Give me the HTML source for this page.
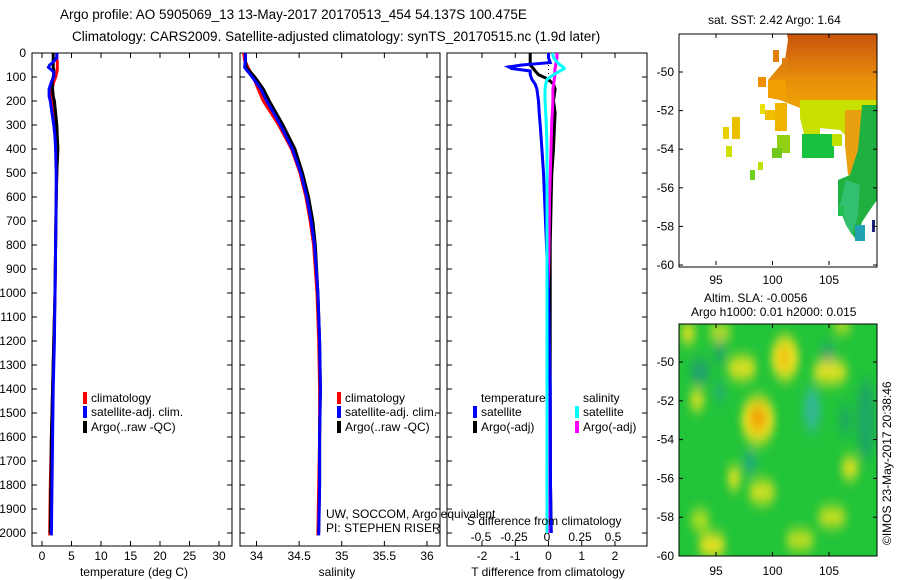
<!DOCTYPE html>
<html><head><meta charset="utf-8">
<style>
html,body{margin:0;padding:0;background:#fff;}
svg{display:block;font-family:"Liberation Sans",sans-serif;}
text{font-size:12px;fill:#000;}
</style></head>
<body>
<svg id="chart" width="900" height="580" viewBox="0 0 900 580" xmlns="http://www.w3.org/2000/svg">
<defs>
<filter id="blur" x="-50%" y="-50%" width="200%" height="200%"><feGaussianBlur stdDeviation="4 7"/></filter>
<clipPath id="clipMap2"><rect x="679" y="324" width="198" height="232"/></clipPath>
<clipPath id="clipMap1"><rect x="679" y="34" width="198" height="233"/></clipPath>
<linearGradient id="sstGrad" x1="0" y1="0" x2="0" y2="1">
<stop offset="0" stop-color="#c8540c"/><stop offset="0.5" stop-color="#e8900a"/><stop offset="1" stop-color="#f0b000"/></linearGradient>
</defs>
<text x="60" y="19" style="font-size:13.5px">Argo profile: AO 5905069_13 13-May-2017 20170513_454 54.137S 100.475E</text>
<text x="72" y="41" style="font-size:13.5px">Climatology: CARS2009. Satellite-adjusted climatology: synTS_20170515.nc (1.9d later)</text>
<g id="p1"></g>
<g id="p2"></g>
<g id="p3"></g>
<g id="map1">
<text x="708" y="24">sat. SST: 2.42 Argo: 1.64</text>
<g clip-path="url(#clipMap1)">
<polygon fill="url(#sstGrad)" points="787,34 877,34 877,112 860,128 820,124 800,108 780,100 770,98 768,80 785,60 788,40"/>
<polygon fill="#c8e000" points="800,100 877,100 877,142 850,140 840,130 820,128 820,138 805,138 800,118"/>
<polygon fill="#e8a010" points="845,110 862,110 860,150 856,175 848,175 845,145"/>
<polygon fill="#20b040" points="862,105 877,105 877,200 870,210 862,222 856,240 846,225 838,205 838,180 850,175 858,150"/>
<polygon fill="#30c070" points="846,180 860,185 858,215 852,235 846,225 840,205"/>
<rect x="855" y="225" width="10" height="16" fill="#20a0b0"/>
<rect x="802" y="134" width="32" height="24" fill="#18c040"/>
<rect x="832" y="134" width="10" height="12" fill="#c0e000"/>
<rect x="777" y="135" width="13" height="18" fill="#90d010"/>
<rect x="772" y="148" width="10" height="10" fill="#70c820"/>
<rect x="775" y="103" width="12" height="28" fill="#f0b400"/>
<rect x="765" y="110" width="10" height="10" fill="#f0c000"/>
<rect x="760" y="104" width="5" height="10" fill="#e8e000"/>
<rect x="732" y="117" width="8" height="22" fill="#e8c000"/>
<rect x="723" y="127" width="6" height="12" fill="#e8d000"/>
<rect x="726" y="146" width="6" height="11" fill="#d0e000"/>
<rect x="758" y="162" width="5" height="8" fill="#c0e000"/>
<rect x="750" y="170" width="5" height="10" fill="#70d020"/>
<rect x="773" y="50" width="6" height="12" fill="#e08010"/>
<rect x="782" y="58" width="6" height="12" fill="#e08010"/>
<rect x="758" y="77" width="8" height="10" fill="#f09000"/>
<rect x="768" y="80" width="18" height="18" fill="#f0a000"/>
<rect x="838" y="206" width="6" height="10" fill="#20c050"/>
<rect x="872" y="220" width="3" height="12" fill="#202080"/>
</g>
<rect x="679" y="34" width="198" height="233" fill="none" stroke="#000"/>
</g>
<g id="map2">
<text x="704" y="302">Altim. SLA: -0.0056</text>
<text x="691" y="316">Argo h1000: 0.01 h2000: 0.015</text>
<g clip-path="url(#clipMap2)">
<rect x="679" y="324" width="198" height="232" fill="#22c43a"/>
<g filter="url(#blur)">
<ellipse cx="700" cy="372" rx="10" ry="12" fill="#20a070"/>
<ellipse cx="720" cy="350" rx="6" ry="15" fill="#1aa860"/>
<ellipse cx="812" cy="410" rx="9" ry="22" fill="#30b890"/>
<ellipse cx="750" cy="462" rx="7" ry="10" fill="#20a880"/>
<ellipse cx="720" cy="392" rx="5" ry="8" fill="#20a880"/>
<ellipse cx="828" cy="355" rx="8" ry="10" fill="#20a070"/>
<ellipse cx="866" cy="420" rx="10" ry="40" fill="#1aa860"/>
<ellipse cx="845" cy="420" rx="6" ry="15" fill="#1aa860"/>
<ellipse cx="758" cy="420" rx="17" ry="24" fill="#e8e020"/>
<ellipse cx="758" cy="418" rx="9" ry="12" fill="#f0a000"/>
<ellipse cx="785" cy="358" rx="14" ry="22" fill="#e8e020"/>
<ellipse cx="784" cy="358" rx="5" ry="8" fill="#f0b000"/>
<ellipse cx="742" cy="368" rx="15" ry="12" fill="#e0e020"/>
<ellipse cx="830" cy="372" rx="18" ry="12" fill="#e0e020"/>
<ellipse cx="697" cy="400" rx="8" ry="10" fill="#d8e020"/>
<ellipse cx="688" cy="333" rx="8" ry="10" fill="#e0e020"/>
<ellipse cx="720" cy="332" rx="12" ry="8" fill="#c8e020"/>
<ellipse cx="842" cy="326" rx="10" ry="6" fill="#d8e020"/>
<ellipse cx="850" cy="468" rx="9" ry="11" fill="#e0e020"/>
<ellipse cx="734" cy="478" rx="7" ry="12" fill="#d8e020"/>
<ellipse cx="762" cy="492" rx="14" ry="12" fill="#d0e020"/>
<ellipse cx="712" cy="545" rx="14" ry="12" fill="#e8e020"/>
<ellipse cx="800" cy="540" rx="15" ry="10" fill="#c8e020"/>
<ellipse cx="832" cy="517" rx="15" ry="10" fill="#d0e020"/>
<ellipse cx="700" cy="520" rx="10" ry="10" fill="#b8e020"/>
</g>
</g>
<rect x="679" y="324" width="198" height="232" fill="none" stroke="#000"/>
<text transform="translate(891,545) rotate(-90)">©IMOS 23-May-2017 20:38:46</text>
</g>
</svg>
<script>
// ---- data ----
const depthT = [0,20,40,50,60,70,80,100,120,150,180,200,250,300,350,400,500,600,800,1000,1200,1400,1600,1800,2000,2010];
const tempClim = [2.5,2.5,2.6,2.6,2.6,2.6,2.5,2.3,2.0,1.7,1.6,1.7,2.0,2.3,2.4,2.5,2.5,2.4,2.3,2.2,2.0,1.8,1.6,1.4,1.3,1.3];
const tempSat = [2.5,2.5,1.8,1.3,1.1,1.6,2.0,2.0,1.6,1.2,1.2,1.4,1.7,2.0,2.2,2.3,2.4,2.4,2.3,2.2,2.1,1.9,1.8,1.7,1.6,1.6];
const tempArgo = [1.9,1.9,1.9,1.9,1.9,2.0,2.0,1.9,1.7,1.8,1.9,2.1,2.3,2.5,2.6,2.7,2.5,2.4,2.3,2.2,2.0,1.8,1.6,1.5,1.4];
const depthS = [0,30,60,100,150,200,250,300,400,500,600,700,800,1000,1200,1400,1600,1800,2000,2010];
const salClim = [33.85,33.86,33.9,33.96,34.02,34.08,34.17,34.26,34.41,34.51,34.58,34.63,34.67,34.71,34.73,34.74,34.74,34.73,34.72,34.72];
const salSat = [33.87,33.87,33.86,33.95,34.05,34.12,34.2,34.28,34.42,34.52,34.59,34.64,34.68,34.72,34.74,34.75,34.74,34.74,34.73,34.73];
const salArgo = [33.87,33.87,33.88,33.98,34.08,34.15,34.23,34.31,34.45,34.54,34.61,34.66,34.69,34.72,34.74,34.75,34.74,34.74,34.73];
const depthD = [0,20,40,50,58,65,75,90,110,130,150,200,250,300,400,500,600,800,1000,1400,1800,2000];
const tDiffSat = [0.0,0.0,0.05,-0.8,-1.2,-1.1,-0.55,-0.55,-0.5,-0.4,-0.35,-0.3,-0.28,-0.25,-0.2,-0.15,-0.12,-0.06,0.0,0.05,0.06,0.08];
const tDiffArgo = [-0.55,-0.55,-0.55,-0.55,-0.5,-0.45,-0.4,-0.3,0.0,0.15,0.2,0.15,0.2,0.18,0.15,0.1,0.08,0.05,0.05,0.05,0.06,0.08];
const sDiffSat = [0.04,0.05,0.08,0.1,0.12,0.13,0.1,0.05,0.0,-0.01,-0.015,-0.015,-0.01,-0.005,0.0,0.0,0.0,0.0,0.0,0.0,0.0,0.0];
const sDiffArgo = [0.075,0.075,0.07,0.065,0.065,0.06,0.06,0.06,0.055,0.05,0.045,0.045,0.04,0.035,0.03,0.025,0.02,0.015,0.01,0.005,0.01,0.01];
const depthTicks = [0,100,200,300,400,500,600,700,800,900,1000,1100,1200,1300,1400,1500,1600,1700,1800,1900,2000];
const tempTicks = [0,5,10,15,20,25,30];
const salTicks = [34,34.5,35,35.5,36];
const tDiffTicks = [-2,-1,0,1,2];
const sDiffTicks = [-0.5,-0.25,0,0.25,0.5];
const mapLatTicks = [-50,-52,-54,-56,-58,-60];
const mapLonTicks = [95,100,105];

const NS='http://www.w3.org/2000/svg';
function el(tag, attrs, parent, txt){const e=document.createElementNS(NS,tag);for(const k in attrs)e.setAttribute(k,attrs[k]);if(txt!==undefined)e.textContent=txt;parent.appendChild(e);return e;}
const top0=53, bot=546;
const yD = d => 53 + d*0.24;
function xLin(d0,x0,d1,x1){return v=>x0+(v-d0)*(x1-x0)/(d1-d0);}
const xT = xLin(0,42,30,219);
const xS = xLin(34,256.5,36,427);
const xTD = xLin(-2,482,2,615);
const xSD = xLin(-0.5,481,0.5,613);

function frame(g, x0, x1, name){
  const r=el('rect',{x:x0,y:top0,width:x1-x0,height:bot-top0,fill:'none',stroke:'#000'},g);
  
  
  depthTicks.forEach(d=>{
    el('line',{x1:x0,x2:x0+5,y1:yD(d),y2:yD(d),stroke:'#000'},g);
    el('line',{x1:x1,x2:x1-5,y1:yD(d),y2:yD(d),stroke:'#000'},g);
  });
}
function xticks(g,ticks,fx,labels,y){
  ticks.forEach((t,i)=>{
    el('line',{x1:fx(t),x2:fx(t),y1:bot,y2:bot-5,stroke:'#000'},g);
    el('line',{x1:fx(t),x2:fx(t),y1:top0,y2:top0+5,stroke:'#000'},g);
    const tx=el('text',{x:fx(t),y:y,'text-anchor':'middle'},g,labels[i]);
    
    
  });
}
function line(g, xs, ds, fx, color, name, w){
  const pts = xs.map((v,i)=>fx(v).toFixed(1)+','+yD(ds[i]).toFixed(1)).join(' ');
  const p=el('polyline',{points:pts,fill:'none',stroke:color,'stroke-width':w||3,'stroke-linejoin':'miter'},g);
  
  
}
function legend(g,x,y,color,label){
  el('rect',{x:x,y:y-10,width:4,height:12,fill:color},g);
  const t=el('text',{x:x+8,y:y},g,label);
  
  
}

// panel 1
const p1=document.getElementById('p1');
frame(p1,32,232,'temperature');
depthTicks.forEach(d=>{const t=el('text',{x:26,y:yD(d)+4,'text-anchor':'end'},p1,String(d));
  
  });
xticks(p1,tempTicks,xT,tempTicks.map(String),560);
line(p1,tempClim,depthT,xT,'#ff0000','temp-climatology-line');
line(p1,tempArgo,depthT,xT,'#000000','temp-argo-line');
line(p1,tempSat,depthT,xT,'#0000ff','temp-satellite-line');
legend(p1,83,402,'#ff0000','climatology');
legend(p1,83,416,'#0000ff','satellite-adj. clim.');
legend(p1,83,431,'#000','Argo(..raw -QC)');
{const t=el('text',{x:134,y:576,'text-anchor':'middle'},p1,'temperature (deg C)');
}

// panel 2
const p2=document.getElementById('p2');
frame(p2,240,440,'salinity');
xticks(p2,salTicks,xS,['34','34.5','35','35.5','36'],560);
line(p2,salClim,depthS,xS,'#ff0000','sal-climatology-line');
line(p2,salArgo,depthS,xS,'#000000','sal-argo-line');
line(p2,salSat,depthS,xS,'#0000ff','sal-satellite-line');
legend(p2,337,402,'#ff0000','climatology');
legend(p2,337,416,'#0000ff','satellite-adj. clim.');
legend(p2,337,431,'#000','Argo(..raw -QC)');
{let t=el('text',{x:326,y:518},p2,'UW, SOCCOM, Argo equivalent');
t=el('text',{x:326,y:532},p2,'PI: STEPHEN RISER');
t=el('text',{x:337,y:576,'text-anchor':'middle'},p2,'salinity');}

// panel 3
const p3=document.getElementById('p3');
frame(p3,447,647,'difference');
xticks(p3,tDiffTicks,xTD,['-2','-1','0','1','2'],560);
sDiffTicks.forEach(t=>{const tx=el('text',{x:xSD(t),y:541,'text-anchor':'middle'},p3,String(t).replace('0.','.').replace('-.','-0.').replace(/^\./,'0.'));
  tx.textContent = String(t);
  });
el('line',{x1:xTD(0),x2:xTD(0),y1:top0,y2:yD(130),stroke:'#000','stroke-dasharray':'1,3'},p3);
line(p3,tDiffArgo,depthD,xTD,'#000000','tdiff-argo-line');
line(p3,sDiffArgo,depthD,xSD,'#ff00ff','sdiff-argo-line');
line(p3,tDiffSat,depthD,xTD,'#0000ff','tdiff-satellite-line');
line(p3,sDiffSat,depthD,xSD,'#00ffff','sdiff-satellite-line');
{let t=el('text',{x:481,y:402},p3,'temperature');
t=el('text',{x:583,y:402},p3,'salinity');}
legend(p3,473,416,'#0000ff','satellite');
legend(p3,473,431,'#000','Argo(-adj)');
legend(p3,575,416,'#00ffff','satellite');
legend(p3,575,431,'#ff00ff','Argo(-adj)');
{let t=el('text',{x:467,y:525},p3,'S difference from climatology');
t=el('text',{x:548,y:576,'text-anchor':'middle'},p3,'T difference from climatology');}

// map axes
function mapAxes(gid, yTop, y50, yBot, labelY){
  const g=document.getElementById(gid);
  const yl = lat => y50 + (-50-lat)*(yBot-y50)/10;
  const xl = xLin(95,716,105,829);
  mapLatTicks.forEach(l=>{
    el('line',{x1:679,x2:683,y1:yl(l),y2:yl(l),stroke:'#000'},g);
    el('line',{x1:877,x2:873,y1:yl(l),y2:yl(l),stroke:'#000'},g);
    const t=el('text',{x:674,y:yl(l)+4,'text-anchor':'end'},g,String(l));
    
  });
  mapLonTicks.forEach(l=>{
    el('line',{x1:xl(l),x2:xl(l),y1:yBot,y2:yBot-4,stroke:'#000'},g);
    el('line',{x1:xl(l),x2:xl(l),y1:yTop,y2:yTop+4,stroke:'#000'},g);
    const t=el('text',{x:xl(l),y:labelY,'text-anchor':'middle'},g,String(l));
    
  });
}
mapAxes('map1',34,72,265,284);
mapAxes('map2',324,362,556,575);
</script>
</body></html>
